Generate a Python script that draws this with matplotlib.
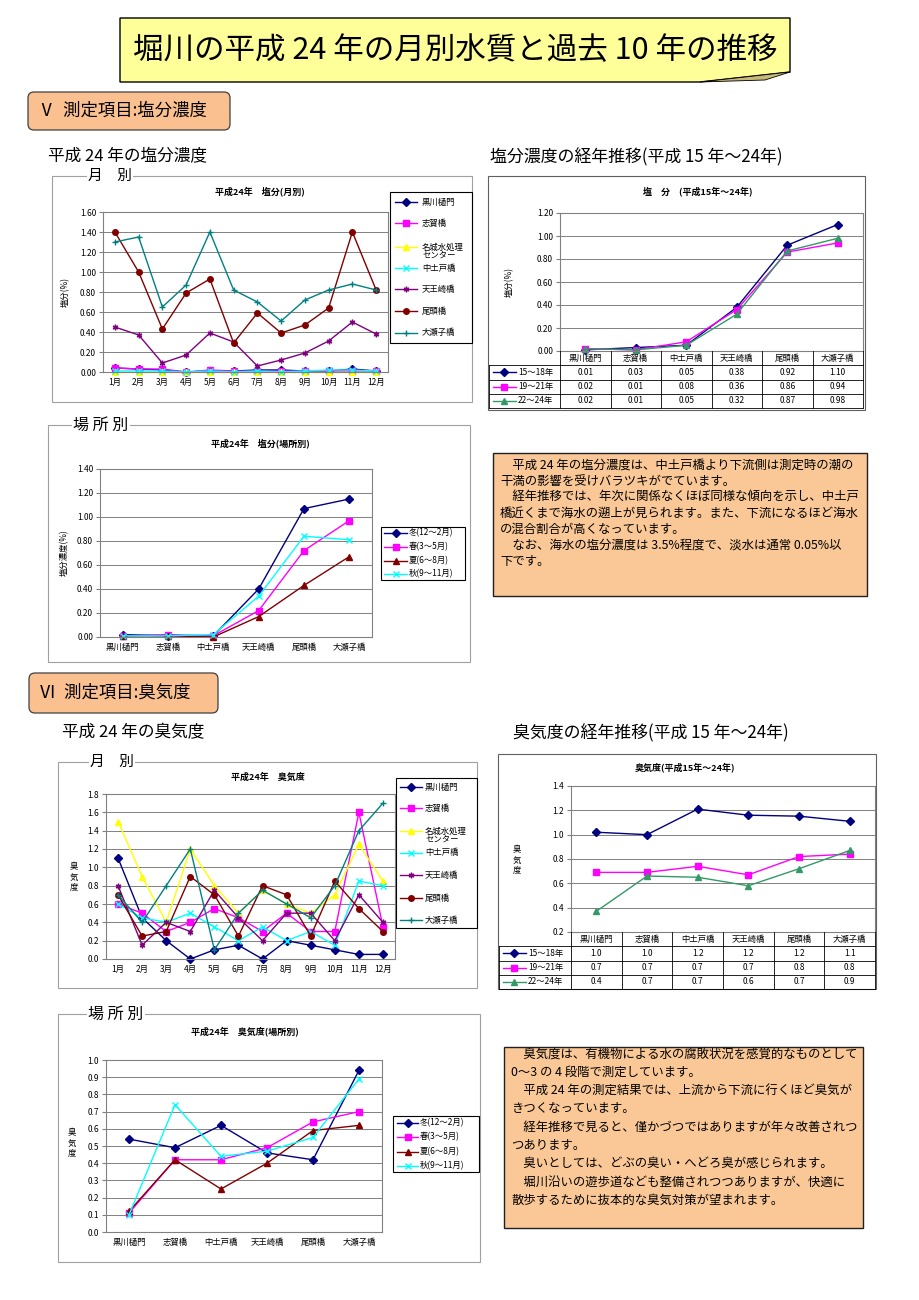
import matplotlib
matplotlib.use('Agg')
import matplotlib.pyplot as plt
import numpy as np
from matplotlib.patches import Rectangle, FancyBboxPatch, Polygon

plt.rcParams['font.family'] = ['Noto Sans CJK JP', 'DejaVu Sans']

# ---- data ----
months = ['1月', '2月', '3月', '4月', '5月', '6月', '7月', '8月', '9月', '10月', '11月', '12月']
sites7 = ['黒川樋門', '志賀橋', '名城水処理\nセンター', '中土戸橋', '天王崎橋', '尾頭橋', '大瀬子橋']
sites6 = ['黒川樋門', '志賀橋', '中土戸橋', '天王崎橋', '尾頭橋', '大瀬子橋']
seasons = ['冬(12～2月)', '春(3～5月)', '夏(6～8月)', '秋(9～11月)']
periods = ['15～18年', '19～21年', '22～24年']

# salinity by month (%)
salt_kurokawa = [0.04, 0.03, 0.02, 0.00, 0.01, 0.01, 0.02, 0.02, 0.01, 0.01, 0.03, 0.01]
salt_shiga = [0.04, 0.03, 0.03, 0.00, 0.02, 0.01, 0.01, 0.01, 0.01, 0.01, 0.01, 0.01]
salt_meijo = [0.00, 0.00, 0.00, 0.00, 0.00, 0.00, 0.00, 0.00, 0.00, 0.00, 0.00, 0.00]
salt_nakadoto = [0.01, 0.01, 0.01, 0.00, 0.01, 0.00, 0.01, 0.00, 0.01, 0.02, 0.02, 0.01]
salt_tennozaki = [0.45, 0.37, 0.09, 0.17, 0.39, 0.30, 0.06, 0.12, 0.19, 0.31, 0.50, 0.38]
salt_obata = [1.40, 1.00, 0.43, 0.79, 0.93, 0.29, 0.59, 0.39, 0.47, 0.64, 1.40, 0.82]
salt_osegoe = [1.30, 1.35, 0.65, 0.87, 1.40, 0.82, 0.70, 0.51, 0.72, 0.82, 0.88, 0.82]

# salinity by site and season
salt_winter = [0.02, 0.01, 0.01, 0.40, 1.07, 1.15]
salt_spring = [0.01, 0.02, 0.01, 0.22, 0.72, 0.97]
salt_summer = [0.01, 0.01, 0.00, 0.17, 0.43, 0.67]
salt_autumn = [0.01, 0.01, 0.02, 0.34, 0.84, 0.81]

# salinity trend
salt_h15_18 = [0.01, 0.03, 0.05, 0.38, 0.92, 1.10]
salt_h19_21 = [0.02, 0.01, 0.08, 0.36, 0.86, 0.94]
salt_h22_24 = [0.02, 0.01, 0.05, 0.32, 0.87, 0.98]

# odour by month
odor_kurokawa = [1.1, 0.45, 0.2, 0.0, 0.1, 0.15, 0.0, 0.2, 0.15, 0.1, 0.05, 0.05]
odor_shiga = [0.6, 0.5, 0.3, 0.4, 0.55, 0.45, 0.3, 0.5, 0.3, 0.3, 1.6, 0.35]
odor_meijo = [1.5, 0.9, 0.4, 1.2, 0.8, 0.5, 0.75, 0.6, 0.5, 0.7, 1.25, 0.85]
odor_nakadoto = [0.6, 0.45, 0.4, 0.5, 0.35, 0.2, 0.35, 0.2, 0.3, 0.15, 0.85, 0.8]
odor_tennozaki = [0.8, 0.15, 0.4, 0.3, 0.75, 0.45, 0.2, 0.5, 0.5, 0.2, 0.7, 0.4]
odor_obata = [0.7, 0.25, 0.3, 0.9, 0.7, 0.25, 0.8, 0.7, 0.25, 0.85, 0.55, 0.3]
odor_osegoe = [0.7, 0.4, 0.8, 1.2, 0.1, 0.5, 0.75, 0.6, 0.45, 0.8, 1.4, 1.7]

# odour by site and season
odor_winter = [0.54, 0.49, 0.62, 0.46, 0.42, 0.94]
odor_spring = [0.11, 0.42, 0.42, 0.49, 0.64, 0.70]
odor_summer = [0.12, 0.42, 0.25, 0.40, 0.59, 0.62]
odor_autumn = [0.10, 0.74, 0.44, 0.47, 0.55, 0.89]

# odour trend
odor_h15_18 = [1.02, 1.00, 1.21, 1.16, 1.152, 1.11]
odor_h19_21 = [0.69, 0.69, 0.74, 0.67, 0.82, 0.84]
odor_h22_24 = [0.37, 0.66, 0.65, 0.58, 0.72, 0.87]

salt_text = [
    '　平成 24 年の塩分濃度は、中土戸橋より下流側は測定時の潮の',
    '干満の影響を受けバラツキがでています。',
    '　経年推移では、年次に関係なくほぼ同様な傾向を示し、中土戸',
    '橋近くまで海水の遡上が見られます。また、下流になるほど海水',
    'の混合割合が高くなっています。',
    '　なお、海水の塩分濃度は 3.5%程度で、淡水は通常 0.05%以',
    '下です。',
]
odor_text = [
    '　臭気度は、有機物による水の腐敗状況を感覚的なものとして',
    '0～3 の 4 段階で測定しています。',
    '　平成 24 年の測定結果では、上流から下流に行くほど臭気が',
    'きつくなっています。',
    '　経年推移で見ると、僅かづつではありますが年々改善されつ',
    'つあります。',
    '　臭いとしては、どぶの臭い・へどろ臭が感じられます。',
    '　堀川沿いの遊歩道なども整備されつつありますが、快適に',
    '散歩するために抜本的な臭気対策が望まれます。',
]

# ---- styles ----
site_colors = ['#000080', '#FF00FF', '#FFFF00', '#00FFFF', '#800080', '#800000', '#008080']
site_markers = ['D', 's', '^', 'x', (6, 2, 0), 'o', '+']
season_colors = ['#000080', '#FF00FF', '#800000', '#00FFFF']
season_markers = ['D', 's', '^', 'x']
period_colors = ['#000080', '#FF00FF', '#339966']
period_markers = ['D', 's', '^']

W, H = 919, 1300
fig = plt.figure(figsize=(W / 100, H / 100), dpi=100)
page = fig.add_axes([0, 0, 1, 1])
page.set_xlim(0, W)
page.set_ylim(H, 0)
page.axis('off')


def axes_px(x, y, w, h):
    return fig.add_axes([x / W, 1 - (y + h) / H, w / W, h / H])


def line_chart(rect, cats, series, colors, markers, ylim, yticks, fmt, show_x=True):
    ax = axes_px(*rect)
    x = np.arange(len(cats))
    for vals, c, m in zip(series, colors, markers):
        ax.plot(x, vals, color=c, marker=m, ms=4, mew=1, lw=1, clip_on=False)
    ax.set_xlim(-0.5, len(cats) - 0.5)
    ax.set_ylim(*ylim)
    ax.set_yticks(yticks)
    ax.set_yticklabels([fmt % t for t in yticks])
    if show_x:
        ax.set_xticks(x)
        ax.set_xticklabels(cats)
    else:
        ax.set_xticks([])
    ax.tick_params(axis='x', length=0, labelsize=6, pad=4)
    ax.tick_params(axis='y', length=3, labelsize=6, pad=2, color='#808080')
    ax.grid(axis='y', color='#808080', lw=0.7)
    ax.set_axisbelow(True)
    for s in ax.spines.values():
        s.set_color('#808080')
        s.set_linewidth(0.8)
    return ax


def legend_px(box, labels, colors, markers, key_x, text_x, ys, fs=6):
    x0, y0, x1, y1 = box
    page.add_patch(Rectangle((x0, y0), x1 - x0, y1 - y0, fill=False, ec='black', lw=0.8))
    for lab, c, m, y in zip(labels, colors, markers, ys):
        page.plot(key_x, [y, y], color=c, lw=1)
        page.plot([sum(key_x) / 2], [y], marker=m, color=c, ms=4, mew=1)
        ty = y + 5 if '\n' in lab else y
        page.text(text_x, ty, lab, va='center', ha='left', fontsize=fs, linespacing=1.0)


def data_table(x, y, w, h, plot_left, cats, labels, values, colors, markers, fmt):
    ax = axes_px(x, y, w, h)
    n = len(cats)
    cat_w = (x + w - plot_left) / n
    left = -0.5 - (plot_left - x) / cat_w
    ax.set_xlim(left, n - 0.5)
    ax.set_ylim(4, 0)
    ax.axis('off')
    kw = dict(color='black', lw=0.6, clip_on=False)
    for i in range(n + 1):
        ax.plot([i - 0.5, i - 0.5], [0, 4], **kw)
    ax.plot([left, left], [1, 4], **kw)
    for r in range(1, 5):
        ax.plot([left, n - 0.5], [r, r], **kw)
    for i, c in enumerate(cats):
        ax.text(i, 0.5, c, ha='center', va='center', fontsize=6)
    px = 1 / cat_w
    for r, (lab, vals, col, m) in enumerate(zip(labels, values, colors, markers)):
        yy = r + 1.5
        ax.plot([left + 4 * px, left + 27 * px], [yy, yy], color=col, lw=1, clip_on=False)
        ax.plot([left + 15 * px], [yy], marker=m, color=col, ms=4, clip_on=False)
        ax.text(left + 29 * px, yy, lab, ha='left', va='center', fontsize=6)
        for i, v in enumerate(vals):
            ax.text(i, yy, fmt % v, ha='center', va='center', fontsize=6)
    return ax


def group_frame(x0, y0, x1, y1, label, lx, fs=10.5):
    page.add_patch(Rectangle((x0, y0), x1 - x0, y1 - y0, fill=False, ec='#A0A0A0', lw=0.8))
    page.text(lx, y0, label, va='center', ha='left', fontsize=fs,
              bbox=dict(fc='white', ec='none', pad=1))


def header_box(x0, y0, x1, y1, text):
    page.add_patch(FancyBboxPatch((x0, y0), x1 - x0, y1 - y0,
                                  boxstyle='round,pad=0,rounding_size=6',
                                  fc='#FAC090', ec='#404040', lw=0.9))
    page.text(x0 + 10, (y0 + y1) / 2, text, va='center', ha='left', fontsize=12.5)


def text_box(x0, y0, x1, y1, lines, first_y, step, fs=8.9):
    page.add_patch(Rectangle((x0, y0), x1 - x0, y1 - y0, fc='#FAC896', ec='#202020', lw=1))
    for i, line in enumerate(lines):
        page.text(x0 + 7, first_y + i * step, line, va='center', ha='left', fontsize=fs)


def stacked_label(x, y, text):
    page.text(x, y, '\n'.join(text), ha='center', va='center', fontsize=6, linespacing=1.15)


# ---- page title ----
page.add_patch(Polygon([(120, 18), (790, 18), (790, 72), (700, 82), (120, 82)],
                       closed=True, fc='#FFFF99', ec='black', lw=1))
page.add_patch(Polygon([(700, 82), (790, 72), (765, 80)], closed=True, fc='#C8B878', ec='black', lw=0.6))
page.text(455, 50, '堀川の平成 24 年の月別水質と過去 10 年の推移', ha='center', va='center', fontsize=22)

# ---- section V : salinity ----
header_box(28, 92, 230, 130, 'Ⅴ  測定項目:塩分濃度')
page.text(48, 157, '平成 24 年の塩分濃度', va='center', fontsize=12)
page.text(490, 157, '塩分濃度の経年推移(平成 15 年～24年)', va='center', fontsize=12.2)

# monthly salinity
group_frame(52, 176, 472, 402, '月　別', 88)
page.text(260, 191, '平成24年　塩分(月別)', ha='center', va='center', fontsize=6.5, fontweight='bold')
salt_month = [salt_kurokawa, salt_shiga, salt_meijo, salt_nakadoto, salt_tennozaki, salt_obata, salt_osegoe]
line_chart((103, 212, 285, 160), months, salt_month, site_colors, site_markers,
           (0, 1.6), np.arange(0, 1.61, 0.2), '%.2f')
page.text(65, 292, '塩分(%)', rotation=90, ha='center', va='center', fontsize=6)
legend_px((390, 192, 472, 343), sites7, site_colors, site_markers, [395, 417], 422,
          [202, 223, 247, 268, 289, 311, 333])

# salinity by site
group_frame(48, 425, 470, 662, '場 所 別', 73, fs=11.5)
page.text(260, 443, '平成24年　塩分(場所別)', ha='center', va='center', fontsize=6.5, fontweight='bold')
line_chart((100, 469, 272, 168), sites6, [salt_winter, salt_spring, salt_summer, salt_autumn],
           season_colors, season_markers, (0, 1.4), np.arange(0, 1.41, 0.2), '%.2f')
page.text(64, 553, '塩分濃度(%)', rotation=90, ha='center', va='center', fontsize=6)
legend_px((381, 527, 465, 580), seasons, season_colors, season_markers, [384, 407], 409,
          [533, 547, 561, 574])

# salinity trend
page.add_patch(Rectangle((488, 176), 377, 234, fill=False, ec='#606060', lw=0.8))
page.text(698, 191, '塩　分　(平成15年～24年)', ha='center', va='center', fontsize=6.5, fontweight='bold')
salt_trend = [salt_h15_18, salt_h19_21, salt_h22_24]
line_chart((560, 213, 303, 138), sites6, salt_trend, period_colors, period_markers,
           (0, 1.2), np.arange(0, 1.21, 0.2), '%.2f', show_x=False)
page.text(509, 282, '塩分(%)', rotation=90, ha='center', va='center', fontsize=6)
data_table(489, 351, 374, 57, 560, sites6, periods, salt_trend, period_colors, period_markers, '%.2f')

text_box(493, 453, 867, 596, salt_text, 465, 16)

# ---- section VI : odour ----
header_box(29, 673, 218, 713, 'Ⅵ  測定項目:臭気度')
page.text(62, 733, '平成 24 年の臭気度', va='center', fontsize=12)
page.text(513, 733, '臭気度の経年推移(平成 15 年～24年)', va='center', fontsize=12.2)

# monthly odour
group_frame(58, 762, 477, 988, '月　別', 90)
page.text(268, 777, '平成24年　臭気度', ha='center', va='center', fontsize=6.5, fontweight='bold')
odor_month = [odor_kurokawa, odor_shiga, odor_meijo, odor_nakadoto, odor_tennozaki, odor_obata, odor_osegoe]
line_chart((106, 794, 289, 165), months, odor_month, site_colors, site_markers,
           (0, 1.8), np.arange(0, 1.81, 0.2), '%.1f')
stacked_label(74, 877, '臭気度')
legend_px((396, 778, 477, 928), sites7, site_colors, site_markers, [400, 422], 425,
          [787, 808, 831, 853, 875, 898, 920])

# odour trend
page.add_patch(Rectangle((498, 754), 378, 235, fill=False, ec='#606060', lw=0.8))
page.text(685, 767, '臭気度(平成15年～24年)', ha='center', va='center', fontsize=6.5, fontweight='bold')
odor_trend = [odor_h15_18, odor_h19_21, odor_h22_24]
line_chart((571, 786, 304, 146), sites6, odor_trend, period_colors, period_markers,
           (0.2, 1.4), np.arange(0.2, 1.41, 0.2), '%.1f', show_x=False)
stacked_label(517, 860, '臭気度')
data_table(499, 932, 376, 57, 571, sites6, periods, odor_trend, period_colors, period_markers, '%.1f')

# odour by site
group_frame(58, 1014, 480, 1262, '場 所 別', 88, fs=11.5)
page.text(245, 1031, '平成24年　臭気度(場所別)', ha='center', va='center', fontsize=6.5, fontweight='bold')
line_chart((106, 1060, 276, 172), sites6, [odor_winter, odor_spring, odor_summer, odor_autumn],
           season_colors, season_markers, (0, 1.0), np.arange(0, 1.01, 0.1), '%.1f')
stacked_label(72, 1143, '臭気度')
legend_px((393, 1116, 479, 1172), seasons, season_colors, season_markers, [397, 418], 420,
          [1123, 1137, 1152, 1166])

text_box(504, 1047, 863, 1228, odor_text, 1054, 18.3)

fig.savefig('out.png', dpi=100)
